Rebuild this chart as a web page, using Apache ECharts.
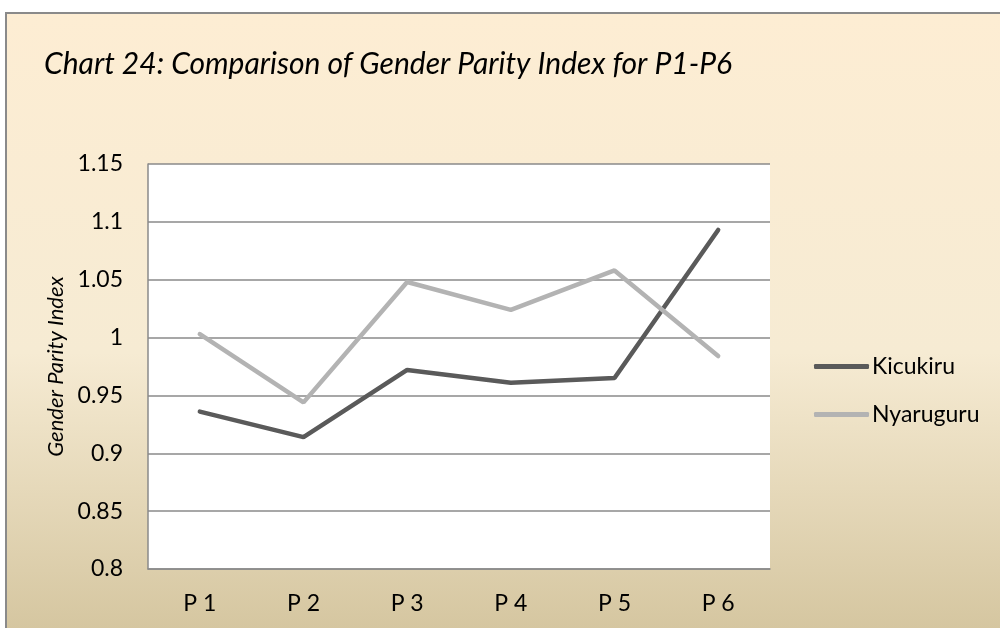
<!DOCTYPE html>
<html>
<head>
<meta charset="utf-8">
<script src="https://cdn.jsdelivr.net/npm/echarts@6/dist/echarts.min.js"></script>
<style>
  html, body { margin: 0; padding: 0; background: #fff; }
  #box {
    position: absolute; left: 5px; top: 12px; width: 995px; height: 616px;
    border-left: 2px solid #8a8a8a; border-top: 2px solid #8a8a8a;
    background: linear-gradient(180deg, #fdedd3 0%, #f6ebd3 55%, #d5c6a0 100%);
  }
  #chart { width: 993px; height: 614px; }
</style>
</head>
<body>
<div id="box"><div id="chart"></div></div>
<script>
// categories + values
const grades = ['P 1', 'P 2', 'P 3', 'P 4', 'P 5', 'P 6']
const kicukiru = [0.936, 0.914, 0.972, 0.961, 0.965, 1.093]
const nyaruguru = [1.003, 0.944, 1.048, 1.024, 1.058, 0.984]

const font = 'Lato, "Liberation Sans", sans-serif'

const myChart = echarts.init(document.getElementById('chart'))

const option = {
  backgroundColor: 'transparent',
  animation: false,
  title: {
    text: 'Chart 24: Comparison of Gender Parity Index for P1-P6',
    left: 32,
    top: 30,
    textStyle: { fontFamily: font, fontStyle: 'italic', fontWeight: 'normal', fontSize: 30, color: '#000' }
  },
  grid: {
    left: 141,
    top: 150,
    right: 230,
    bottom: 59,
    show: true,
    backgroundColor: '#fff',
    borderWidth: 0
  },
  legend: {
    orient: 'vertical',
    left: 802,
    top: 336,
    itemWidth: 55,
    itemHeight: 5,
    itemGap: 25,
    icon: 'roundRect',
    textStyle: { fontFamily: font, fontSize: 23, color: '#000', padding: [0, 0, 0, -2] },
    data: ['Kicukiru', 'Nyaruguru']
  },
  xAxis: {
    type: 'category',
    data: grades,
    boundaryGap: true,
    axisLine: { lineStyle: { color: '#8a8a8a', width: 1.5 } },
    axisTick: { show: false },
    axisLabel: { fontFamily: font, fontSize: 23, color: '#000', margin: 23 }
  },
  yAxis: {
    type: 'value',
    min: 0.8,
    max: 1.15,
    interval: 0.05,
    name: 'Gender Parity Index',
    nameLocation: 'middle',
    nameGap: 81,
    nameTextStyle: { fontFamily: font, fontStyle: 'italic', fontSize: 22, color: '#000' },
    axisLine: { show: true, lineStyle: { color: '#8a8a8a', width: 1.5 } },
    axisTick: { show: false },
    axisLabel: {
      fontFamily: font, fontSize: 23, color: '#000', margin: 25,
      formatter: (v) => String(+v.toFixed(2))
    },
    splitLine: { lineStyle: { color: '#8a8a8a', width: 1.5 } }
  },
  series: [
    {
      name: 'Kicukiru',
      type: 'line',
      data: kicukiru,
      symbol: 'none',
      itemStyle: { color: '#5a5a5a' },
      lineStyle: { color: '#5a5a5a', width: 4.5, cap: 'round' }
    },
    {
      name: 'Nyaruguru',
      type: 'line',
      data: nyaruguru,
      symbol: 'none',
      itemStyle: { color: '#b3b3b3' },
      lineStyle: { color: '#b3b3b3', width: 4.5, cap: 'round' }
    }
  ]
}

myChart.setOption(option)
</script>
</body>
</html>
